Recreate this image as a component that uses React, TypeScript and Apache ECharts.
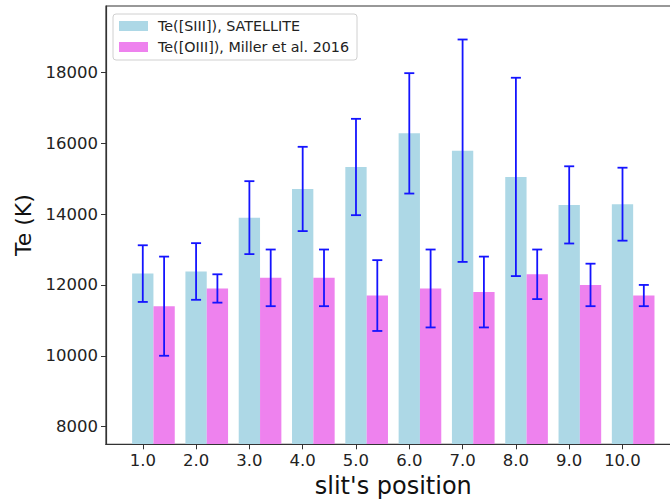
import React, { useEffect, useRef } from "react";
import * as echarts from "echarts";

const positions = [1, 2, 3, 4, 5, 6, 7, 8, 9, 10];
const teSIII = [12320, 12380, 13900, 14710, 15330, 16280, 15790, 15050, 14260, 14280];
const teSIIIErr = [800, 800, 1030, 1190, 1360, 1700, 3140, 2800, 1090, 1030];
const teOIII = [11400, 11900, 12200, 12200, 11700, 11900, 11800, 12300, 12000, 11700];
const teOIIIErr = [1400, 400, 800, 800, 1000, 1100, 1000, 700, 600, 300];
const yTicks = [8000, 10000, 12000, 14000, 16000, 18000];
const seriesNames = ["Te([SIII]), SATELLITE", "Te([OIII]), Miller et al. 2016"];

const BAR_W = 0.4;
const Y_MIN = 7500;
const Y_MAX = 19876;
const X_MIN = 0.31;
const X_MAX = 11.09;
const BLUE = "#ADD8E6";
const PINK = "#EE82EE";
const ERR = "#1414ff";
const FONT = "DejaVu Sans";
const AXIS_COLOR = "#333";

function barSeries(name: string, values: number[], offset: number, color: string) {
  return {
    name,
    type: "custom",
    itemStyle: { color },
    encode: { x: 0, y: 1 },
    data: positions.map((p, i) => [p + offset, values[i]]),
    renderItem: (params: any, api: any) => {
      const x = api.value(0);
      const v = api.value(1);
      const p1 = api.coord([x - BAR_W / 2, v]);
      const p0 = api.coord([x + BAR_W / 2, Y_MIN]);
      return {
        type: "rect",
        shape: { x: p1[0], y: p1[1], width: p0[0] - p1[0], height: p0[1] - p1[1] },
        style: { fill: color },
      };
    },
    z: 2,
  };
}

function errSeries(values: number[], errs: number[], offset: number) {
  return {
    type: "custom",
    encode: { x: 0, y: [1, 2] },
    data: positions.map((p, i) => [p + offset, values[i] - errs[i], values[i] + errs[i]]),
    renderItem: (params: any, api: any) => {
      const x = api.value(0);
      const lo = api.coord([x, api.value(1)]);
      const hi = api.coord([x, api.value(2)]);
      const c = 5;
      const st = { stroke: ERR, lineWidth: 1.8 };
      return {
        type: "group",
        children: [
          { type: "line", shape: { x1: lo[0], y1: lo[1], x2: hi[0], y2: hi[1] }, style: st },
          { type: "line", shape: { x1: lo[0] - c, y1: lo[1], x2: lo[0] + c, y2: lo[1] }, style: st },
          { type: "line", shape: { x1: hi[0] - c, y1: hi[1], x2: hi[0] + c, y2: hi[1] }, style: st },
        ],
      };
    },
    z: 5,
  };
}

export default function App() {
  const ref = useRef<HTMLDivElement>(null);
  useEffect(() => {
    if (!ref.current) return;
    const chart = echarts.init(ref.current, null, { renderer: "svg" });
    chart.setOption({
      animation: false,
      textStyle: { fontFamily: FONT },
      grid: {
        left: 106,
        top: 6,
        width: 574.6,
        height: 438.3,
        outerBoundsMode: "none",
        containLabel: false,
        show: true,
        borderColor: AXIS_COLOR,
        borderWidth: 1.2,
        backgroundColor: "transparent",
      },
      legend: {
        orient: "vertical",
        left: 113,
        top: 14,
        padding: [5, 8, 6, 6],
        itemWidth: 29,
        itemHeight: 10,
        itemGap: 7,
        backgroundColor: "rgba(255,255,255,0.85)",
        borderColor: "#d0d0d0",
        borderWidth: 1,
        borderRadius: 3,
        textStyle: { fontFamily: FONT, fontSize: 14.3, color: "#222", padding: [0, 0, 0, 5] },
        data: [
          { name: seriesNames[0], icon: "rect", itemStyle: { color: BLUE } },
          { name: seriesNames[1], icon: "rect", itemStyle: { color: PINK } },
        ],
      },
      xAxis: {
        type: "value",
        min: X_MIN,
        max: X_MAX,
        z: 10,
        name: "slit's position",
        nameLocation: "middle",
        nameGap: 27,
        nameTextStyle: { fontFamily: FONT, fontSize: 24, color: "#111" },
        axisLine: { show: true, lineStyle: { color: AXIS_COLOR, width: 1.2 } },
        axisTick: { show: true, length: 5, lineStyle: { color: AXIS_COLOR }, customValues: positions },
        axisLabel: {
          fontFamily: FONT,
          fontSize: 16.5,
          color: "#222",
          margin: 8,
          customValues: positions,
          formatter: (v: number) => v.toFixed(1),
        },
        splitLine: { show: false },
      },
      yAxis: {
        type: "value",
        min: Y_MIN,
        max: Y_MAX,
        z: 10,
        name: "Te (K)",
        nameLocation: "middle",
        nameGap: 68,
        nameTextStyle: { fontFamily: FONT, fontSize: 22, color: "#111" },
        axisLine: { show: true, lineStyle: { color: AXIS_COLOR, width: 1.2 } },
        axisTick: { show: true, length: 5, lineStyle: { color: AXIS_COLOR }, customValues: yTicks },
        axisLabel: {
          fontFamily: FONT,
          fontSize: 16.5,
          color: "#222",
          margin: 8,
          customValues: yTicks,
          formatter: (v: number) => String(v),
        },
        splitLine: { show: false },
      },
      series: [
        barSeries(seriesNames[0], teSIII, 0, BLUE),
        barSeries(seriesNames[1], teOIII, BAR_W, PINK),
        errSeries(teSIII, teSIIIErr, 0),
        errSeries(teOIII, teOIIIErr, BAR_W),
      ],
    });
    return () => chart.dispose();
  }, []);
  return (
    <div
      ref={ref}
      style={{ position: "fixed", left: 0, top: 0, width: 670, height: 501, background: "#fff" }}
    />
  );
}
